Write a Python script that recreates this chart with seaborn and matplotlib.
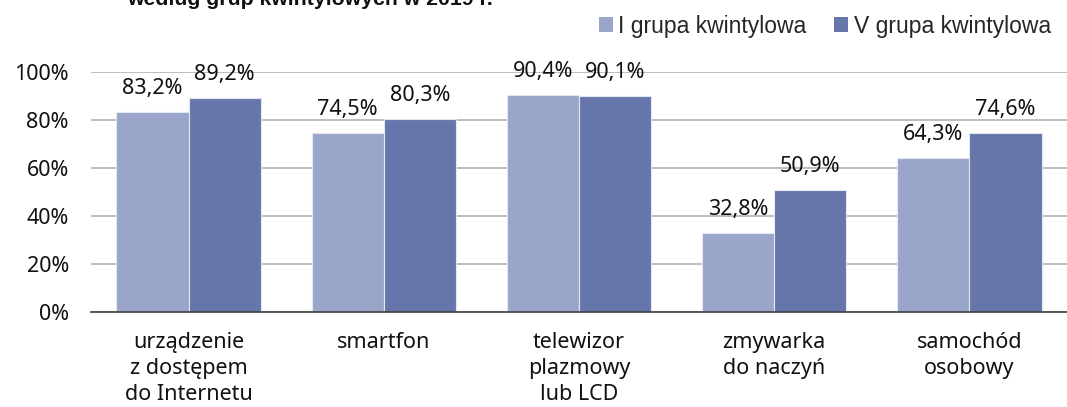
import matplotlib
matplotlib.use('Agg')
import matplotlib.pyplot as plt
import seaborn as sns
import pandas as pd
from matplotlib.patches import Patch

# ---- data ----
categories = ["urządzenie\nz dostępem\ndo Internetu", "smartfon",
              "telewizor\nplazmowy\nlub LCD", "zmywarka\ndo naczyń",
              "samochód\nosobowy"]
series_names = ["I grupa kwintylowa", "V grupa kwintylowa"]
group_I = [83.2, 74.5, 90.4, 32.8, 64.3]
group_V = [89.2, 80.3, 90.1, 50.9, 74.6]
y_ticks = [0, 20, 40, 60, 80, 100]
y_tick_labels = ["0%", "20%", "40%", "60%", "80%", "100%"]
title = "według grup kwintylowych w 2019 r."
colors = ["#9aa6c9", "#6676ab"]

sns.set_theme(style="white")
plt.rcParams['font.family'] = ['Noto Sans', 'DejaVu Sans']

df = pd.DataFrame({
    "kategoria": categories * 2,
    "grupa": [series_names[0]] * len(categories) + [series_names[1]] * len(categories),
    "wartosc": group_I + group_V,
})

W, H = 1067, 407
fig = plt.figure(figsize=(W / 100, H / 100), dpi=100)
ax = fig.add_axes([91 / W, 95 / H, 1 - 91 / W, 240 / H])

sns.barplot(data=df, x="kategoria", y="wartosc", hue="grupa",
            palette=colors, saturation=1, width=0.74, ax=ax, legend=False,
            edgecolor="#e3e7f2", linewidth=0.8, zorder=3)

ax.set_axisbelow(True)
ax.set_ylim(0, 100)
ax.set_xlim(-0.5, -0.5 + (W - 91) / 197)
ax.set_yticks(y_ticks)
ax.set_yticklabels(y_tick_labels)
ax.yaxis.grid(True, color="#b3b3b3", linewidth=1.2)
ax.xaxis.grid(False)
ax.set_xlabel("")
ax.set_ylabel("")

for s in ["left", "top", "right"]:
    ax.spines[s].set_visible(False)
ax.spines["bottom"].set_color("#404040")
ax.spines["bottom"].set_linewidth(1.2)
ax.spines["bottom"].set_zorder(4)

FS = 15.5
ax.tick_params(axis="y", length=0, pad=16, labelsize=FS, labelcolor="#111111")
ax.tick_params(axis="x", which="major", length=0, pad=14.5, labelsize=FS, labelcolor="#111111")
ax.set_xticks([i + 0.5 for i in range(-1, len(categories))], minor=True)
ax.tick_params(axis="x", which="minor", length=5, width=1.2, color="#404040", direction="out")
for lab in ax.get_xticklabels():
    lab.set_linespacing(1.3)
    lab.set_verticalalignment("top")

# value labels
for cont, vals in zip(ax.containers, [group_I, group_V]):
    for p, v in zip(cont.patches, vals):
        ax.annotate(f"{v:.1f}%".replace(".", ","),
                    (p.get_x() + p.get_width() / 2, p.get_height()),
                    xytext=(0, 13), textcoords="offset points",
                    ha="center", va="baseline", fontsize=FS, color="#111111",
                    zorder=5)

# legend
handles = [Patch(facecolor=c, edgecolor="none") for c in colors]
fig.legend(handles, series_names, loc="center left",
           bbox_to_anchor=(599 / W, 1 - 26 / H), ncol=2, frameon=False,
           borderpad=0, borderaxespad=0, handlelength=0.6, handleheight=0.6,
           handletextpad=0.25, columnspacing=1.2,
           prop={"family": ["Liberation Sans"], "size": 16.5})

# clipped title
fig.text(127 / W, 1 - 5 / H, title, fontweight="bold", va="baseline",
         family=["Liberation Sans"], fontsize=15.3, color="#111111")

fig.savefig("out.png", dpi=100)
